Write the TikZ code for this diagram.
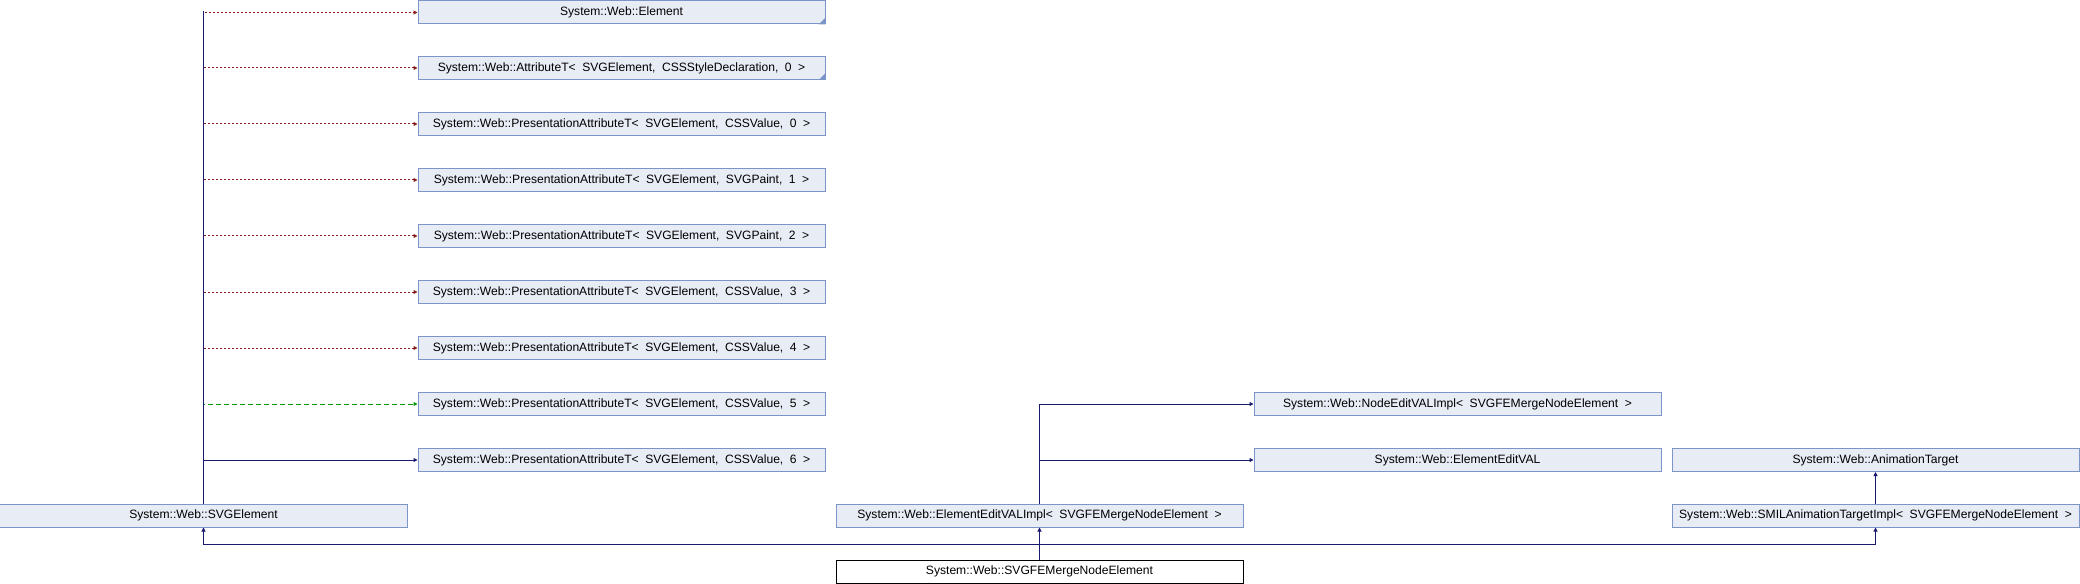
\documentclass[tikz,border=0pt]{standalone}
\usepackage{fontspec}
\setmainfont{Liberation Sans}
\usetikzlibrary{arrows.meta}

\definecolor{boxfill}{HTML}{E8ECF5}
\definecolor{boxline}{HTML}{7C95C8}
\definecolor{pubblue}{HTML}{191970}
\definecolor{privred}{HTML}{8B1A1A}
\definecolor{protgreen}{HTML}{009A00}

\newcommand{\classfont}{\fontsize{12.1bp}{14bp}\selectfont\setlength{\spaceskip}{6.5bp}}

\tikzset{
    classbox/.style={draw=boxline, fill=boxfill, line width=1bp, minimum width=407bp,
        minimum height=23bp, inner sep=0pt, font=\classfont},
    mainbox/.style={classbox, draw=black, fill=white},
    inh/.style={draw=pubblue, line width=1bp, -{Triangle[length=4bp,width=4bp]}},
    privinh/.style={inh, draw=privred, dash pattern=on 2bp off 2bp},
    protinh/.style={inh, draw=protgreen, dash pattern=on 5bp off 3bp}
}

\begin{document}
\begin{tikzpicture}[x=1bp, y={(0bp,-1bp)}]
    \useasboundingbox (0,0) rectangle (2080,584);

    % Base classes, left column
    \node[classbox] (elem) at (621.5,12.5) {System::Web::Element};
    \node[classbox] (attr) at (621.5,68) {System::Web::AttributeT< SVGElement, CSSStyleDeclaration, 0 >};
    \node[classbox] (pres0) at (621.5,124) {System::Web::PresentationAttributeT< SVGElement, CSSValue, 0 >};
    \node[classbox] (pres1) at (621.5,180) {System::Web::PresentationAttributeT< SVGElement, SVGPaint, 1 >};
    \node[classbox] (pres2) at (621.5,236) {System::Web::PresentationAttributeT< SVGElement, SVGPaint, 2 >};
    \node[classbox] (pres3) at (621.5,292) {System::Web::PresentationAttributeT< SVGElement, CSSValue, 3 >};
    \node[classbox] (pres4) at (621.5,348) {System::Web::PresentationAttributeT< SVGElement, CSSValue, 4 >};
    \node[classbox] (pres5) at (621.5,404) {System::Web::PresentationAttributeT< SVGElement, CSSValue, 5 >};
    \node[classbox] (pres6) at (621.5,460) {System::Web::PresentationAttributeT< SVGElement, CSSValue, 6 >};

    % Truncation marks
    \fill[boxline] (elem.south east) -- ++(-7,0) -- ++(7,-7) -- cycle;
    \fill[boxline] (attr.south east) -- ++(-7,0) -- ++(7,-7) -- cycle;

    % Base classes, right side
    \node[classbox] (nodeval) at (1457.5,404) {System::Web::NodeEditVALImpl< SVGFEMergeNodeElement >};
    \node[classbox] (editval) at (1457.5,460) {System::Web::ElementEditVAL};
    \node[classbox] (anim) at (1875.5,460) {System::Web::AnimationTarget};

    % Direct bases
    \node[classbox] (svgel) at (203.5,515.5) {System::Web::SVGElement};
    \node[classbox] (editimpl) at (1039.5,515.5) {System::Web::ElementEditVALImpl< SVGFEMergeNodeElement >};
    \node[classbox] (smil) at (1875.5,515.5) {System::Web::SMILAnimationTargetImpl< SVGFEMergeNodeElement >};

    % The class itself
    \node[mainbox] (merge) at (1039.5,571.5) {System::Web::SVGFEMergeNodeElement};

    % SVGElement edges
    \draw[privinh] (svgel.north) |- (elem.west);
    \draw[privinh] (svgel.north) |- (attr.west);
    \draw[privinh] (svgel.north) |- (pres0.west);
    \draw[privinh] (svgel.north) |- (pres1.west);
    \draw[privinh] (svgel.north) |- (pres2.west);
    \draw[privinh] (svgel.north) |- (pres3.west);
    \draw[privinh] (svgel.north) |- (pres4.west);
    \draw[protinh] (svgel.north) |- (pres5.west);
    \draw[inh] (svgel.north) |- (pres6.west);
    \draw[draw=pubblue, line width=1bp] (svgel.north) -- ++(0,-492);

    % ElementEditVALImpl edges
    \draw[inh] (editimpl.north) |- (nodeval.west);
    \draw[inh] (editimpl.north) |- (editval.west);

    % SMILAnimationTargetImpl edge
    \draw[inh] (smil.north) -- (anim.south);

    % SVGFEMergeNodeElement edges
    \coordinate (bus) at (1039.5,544);
    \draw[inh] (merge.north) -- (editimpl.south);
    \draw[inh] (bus) -| (svgel.south);
    \draw[inh] (bus) -| (smil.south);
\end{tikzpicture}
\end{document}
